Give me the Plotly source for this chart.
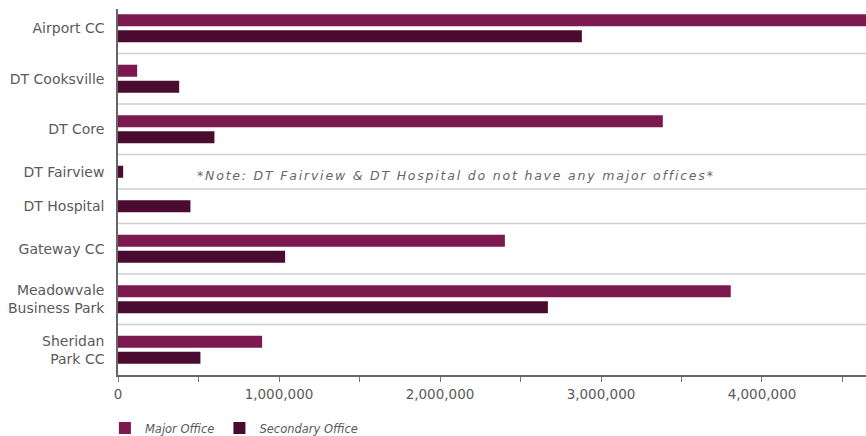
import plotly.graph_objects as go

# ---- data ----
categories = ["Airport CC", "DT Cooksville", "DT Core", "DT Fairview", "DT Hospital",
              "Gateway CC", "Meadowvale<br>Business Park", "Sheridan<br>Park CC"]
major_office = [4750000, 119000, 3384000, None, None, 2403000, 3806000, 895000]
secondary_office = [2881000, 380000, 599000, 32000, 450000, 1038000, 2670000, 512000]
x_tick_values = [0, 1000000, 2000000, 3000000, 4000000]
x_tick_labels = ["0", "1,000,000", "2,000,000", "3,000,000", "4,000,000"]
note_text = "*Note: DT Fairview & DT Hospital do not have any major offices*"

MAJOR_COLOR = "#7c1a4f"
SECONDARY_COLOR = "#4b0a2f"
TEXT_COLOR = "#5a5a5a"
FONT = "DejaVu Sans"

# ---- row layout: each row is as tall as the number of bars it holds ----
PAD = 1.15
cursor = 0.0
major_y, secondary_y, centers, boundaries = [], [], [], []
for m, s in zip(major_office, secondary_office):
    n = (1 if m is not None else 0) + (1 if s is not None else 0)
    start = cursor
    slot = start + PAD / 2 + 0.5
    if m is not None:
        major_y.append(slot)
        slot += 1
    else:
        major_y.append(None)
    secondary_y.append(slot)
    cursor += n + PAD
    centers.append(start + (n + PAD) / 2)
    boundaries.append(cursor)

fig = go.Figure()
fig.add_trace(go.Bar(name="Major Office", orientation="h",
                     x=[v for v in major_office if v is not None],
                     y=[y for y in major_y if y is not None],
                     width=0.75, marker=dict(color=MAJOR_COLOR, line=dict(width=0))))
fig.add_trace(go.Bar(name="Secondary Office", orientation="h",
                     x=secondary_office, y=secondary_y,
                     width=0.75, marker=dict(color=SECONDARY_COLOR, line=dict(width=0))))

# row separators
for b in boundaries[:-1]:
    fig.add_shape(type="line", xref="paper", x0=0, x1=1, yref="y", y0=b, y1=b,
                  line=dict(color="#cfcfcf", width=1.5), layer="below")

fig.add_annotation(x=2100000, y=centers[3], xref="x", yref="y", yshift=-4,
                   text='<span style="letter-spacing:1.8px">' + note_text + '</span>',
                   showarrow=False,
                   font=dict(family=FONT, size=12.5, color="#666666", style="italic"))

fig.update_layout(
    width=866, height=436,
    margin=dict(l=117.5, r=0, t=9, b=61, autoexpand=False),
    paper_bgcolor="white", plot_bgcolor="white",
    barmode="overlay",
    showlegend=True,
    legend=dict(orientation="h", x=-0.0175, xanchor="left", y=-0.145, yanchor="middle",
                font=dict(family=FONT, size=11.5, color=TEXT_COLOR, style="italic"),
                itemclick=False),
    font=dict(family=FONT, color=TEXT_COLOR),
    xaxis=dict(range=[0, 4646000], tickvals=x_tick_values, ticktext=x_tick_labels,
               showgrid=False, zeroline=False, automargin=False,
               showline=True, linecolor="#666666", linewidth=1.5,
               ticks="outside", ticklen=5, tickcolor="#777777", tickwidth=1,
               ticklabelstandoff=1,
               minor=dict(dtick=500000, tick0=0, ticks="outside", ticklen=5,
                          tickcolor="#777777", tickwidth=1),
               tickfont=dict(family=FONT, size=13.5, color=TEXT_COLOR)),
    yaxis=dict(range=[cursor, 0.375], tickvals=centers, ticktext=categories,
               showgrid=False, zeroline=False, automargin=False,
               showline=True, linecolor="#666666", linewidth=1.5,
               ticks="", ticklabelstandoff=9,
               tickfont=dict(family=FONT, size=14, color=TEXT_COLOR)),
)

fig.write_html("out.html", config={"displayModeBar": False},
               post_script="document.body.style.margin='0';document.body.style.overflow='hidden';")
